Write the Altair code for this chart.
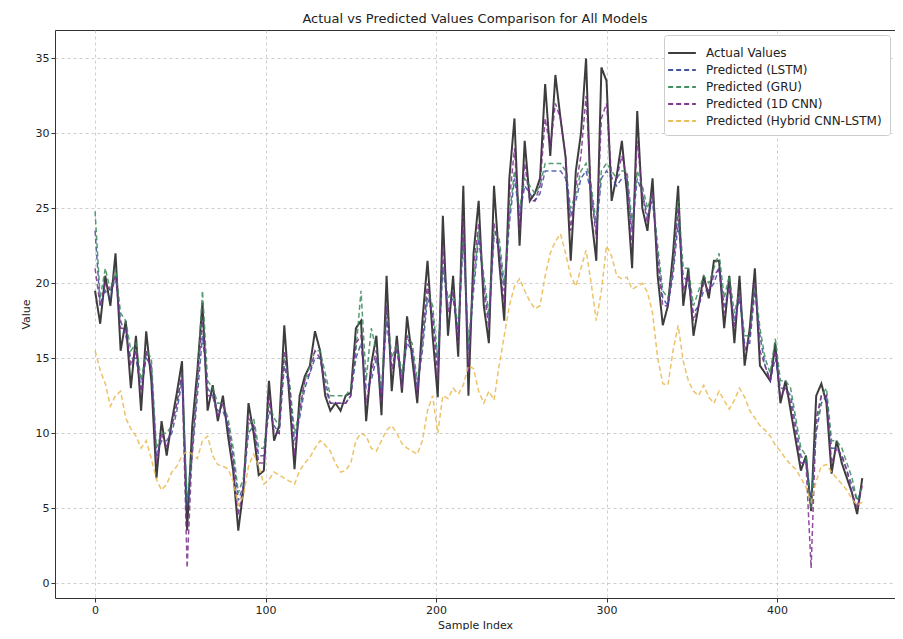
import altair as alt
import pandas as pd

STEP = 3  # sample spacing of the values below (index 0, 3, 6, ... 450)

actual = [
    19.5, 17.3, 20.5, 18.5, 22.0, 15.5, 17.5, 13.0, 16.5, 11.5,
    16.8, 13.5, 7.0, 10.8, 8.5, 10.8, 12.7, 14.8, 3.5, 10.5,
    14.2, 18.7, 11.5, 13.2, 10.8, 12.5, 9.8, 7.5, 3.5, 6.2,
    12.0, 10.0, 7.2, 7.5, 13.5, 9.5, 10.5, 17.2, 12.3, 7.6,
    12.5, 13.8, 14.5, 16.8, 15.5, 12.5, 11.5, 12.0, 11.5, 12.5,
    12.7, 17.0, 17.5, 10.8, 14.6, 16.5, 11.2, 20.5, 12.8, 16.5,
    12.7, 17.8, 15.0, 12.0, 17.5, 21.5, 16.5, 12.4, 24.5, 16.5,
    20.5, 15.1, 26.5, 12.5, 22.0, 25.5, 18.5, 16.0, 26.5, 21.5,
    17.5, 27.0, 31.0, 22.5, 29.5, 25.5, 26.0, 27.0, 33.3, 28.5,
    33.9, 31.0, 28.4, 21.5, 27.5, 30.0, 35.0, 24.5, 21.5, 34.4,
    33.5, 25.5, 27.2, 29.5, 26.0, 21.0, 31.5, 25.0, 23.5, 27.0,
    20.5, 17.2, 18.5, 22.0, 26.5, 18.5, 21.0, 16.5, 18.5, 20.5,
    19.0, 21.5, 21.5, 17.0, 20.5, 16.0, 20.5, 14.5, 17.0, 21.0,
    14.5, 14.0, 13.5, 16.0, 12.0, 13.5, 11.5, 9.5, 7.5, 8.5,
    4.8, 12.5, 13.3, 12.0, 7.3, 9.5, 8.0, 7.0, 6.0, 4.6,
    7.0,
]

lstm = [
    23.5, 18.5, 19.5, 19.0, 20.5, 17.5, 16.5, 15.0, 15.0, 13.0,
    15.0, 14.5, 8.5, 9.5, 9.5, 10.0, 11.5, 13.5, 5.0, 8.5,
    12.5, 16.5, 13.0, 12.5, 11.5, 11.5, 10.5, 8.5, 5.5, 6.5,
    10.0, 10.5, 8.5, 8.5, 11.5, 10.5, 10.0, 14.5, 13.0, 9.5,
    11.0, 13.0, 14.0, 15.0, 15.0, 13.5, 12.0, 12.0, 12.0, 12.0,
    12.5, 15.0, 16.0, 13.0, 13.5, 15.0, 12.5, 17.5, 14.5, 15.5,
    13.5, 16.0, 15.5, 13.0, 15.5, 19.0, 18.0, 14.5, 21.0, 18.5,
    19.0, 16.5, 23.0, 15.5, 19.5, 23.0, 20.0, 17.5, 23.0, 22.5,
    19.5, 24.0, 27.0, 24.5, 26.5, 26.0, 25.5, 26.0, 27.5, 27.5,
    27.5, 27.5, 27.0, 24.5, 25.5, 27.0, 27.5, 26.0, 23.5, 27.0,
    27.5, 27.0, 26.5, 27.0, 27.0, 23.5, 27.0, 26.0, 24.5, 25.5,
    22.0, 19.0, 18.5, 20.5, 24.0, 20.5, 20.0, 18.0, 18.5, 19.5,
    19.5, 20.0, 21.0, 18.5, 19.5, 17.5, 19.0, 16.0, 16.0, 19.5,
    16.5, 14.5, 13.5, 15.0, 13.0, 13.0, 12.5, 10.5, 8.5, 8.0,
    5.5, 10.0, 12.0, 12.5, 9.0, 9.0, 8.5, 7.5, 6.5, 5.5,
    6.0,
]

gru = [
    24.8, 19.0, 21.0, 19.5, 21.0, 18.0, 17.5, 15.5, 16.0, 13.5,
    15.5, 15.0, 9.0, 10.0, 10.0, 10.5, 12.0, 14.0, 5.5, 9.0,
    13.5, 19.5, 13.5, 13.0, 12.0, 12.0, 11.0, 9.0, 6.0, 7.0,
    10.5, 11.0, 9.0, 9.0, 12.0, 11.0, 10.5, 15.0, 13.5, 10.0,
    11.5, 13.5, 14.5, 15.5, 15.5, 14.0, 12.5, 12.5, 12.5, 12.5,
    13.0, 15.5, 19.5, 13.5, 17.0, 15.5, 13.0, 18.5, 15.0, 16.0,
    14.0, 16.5, 16.0, 13.5, 16.0, 19.5, 18.5, 15.0, 21.5, 19.0,
    19.5, 17.0, 23.5, 16.0, 20.0, 23.5, 20.5, 18.0, 23.5, 23.0,
    20.0, 24.5, 27.5, 25.0, 27.0, 26.5, 26.0, 26.5, 28.0, 28.0,
    28.0, 28.0, 27.5, 25.0, 26.0, 27.5, 28.0, 26.5, 24.0, 27.5,
    28.0, 27.5, 27.0, 27.5, 27.5, 24.0, 27.5, 26.5, 25.0, 26.0,
    22.5, 19.5, 19.0, 21.0, 25.5, 21.0, 21.0, 18.5, 19.5, 20.5,
    20.0, 21.0, 22.0, 19.0, 20.5, 18.0, 19.5, 16.5, 16.5, 20.0,
    17.0, 15.0, 14.0, 16.3, 13.5, 13.5, 13.0, 11.0, 9.0, 8.5,
    5.0, 10.5, 12.5, 13.0, 9.5, 9.5, 9.0, 8.0, 7.0, 5.5,
    6.5,
]

cnn = [
    21.0, 18.5, 20.0, 19.5, 20.5, 17.0, 17.0, 14.5, 15.5, 12.5,
    15.5, 14.0, 8.0, 10.0, 9.0, 10.5, 12.0, 14.0, 1.0, 9.0,
    13.5, 17.5, 12.5, 12.5, 11.0, 12.0, 10.5, 8.0, 4.5, 6.5,
    11.0, 10.5, 8.0, 8.0, 12.5, 10.0, 10.0, 15.5, 13.0, 8.5,
    11.5, 13.5, 14.0, 15.5, 15.0, 13.0, 12.0, 12.0, 12.0, 12.0,
    12.5, 16.0, 16.5, 12.0, 14.0, 15.5, 12.0, 18.5, 14.0, 16.0,
    13.0, 16.5, 15.5, 12.5, 16.5, 20.0, 17.5, 13.5, 22.5, 18.0,
    19.5, 16.0, 24.5, 14.0, 21.0, 24.0, 19.5, 17.0, 24.0, 22.0,
    18.5, 25.5, 29.0, 23.5, 28.0, 25.5, 25.5, 26.5, 31.0, 29.0,
    32.0, 31.0, 28.5, 23.5, 26.5, 28.5, 32.5, 26.0, 23.0, 31.0,
    32.0, 27.0, 27.0, 28.5, 27.0, 22.5, 29.5, 26.0, 24.0, 26.0,
    21.5, 18.5, 18.5, 21.0, 25.0, 19.5, 20.5, 17.5, 18.5, 20.0,
    19.5, 20.5, 21.0, 18.0, 20.0, 17.0, 19.5, 15.5, 16.5, 20.0,
    15.5, 14.5, 13.5, 15.5, 12.5, 13.0, 12.0, 10.0, 8.0, 8.0,
    1.0, 11.0, 12.5, 12.5, 8.0, 9.0, 8.5, 7.5, 6.0, 5.0,
    6.5,
]

hybrid = [
    15.5, 14.2, 13.3, 11.8, 12.5, 12.8, 11.0, 10.3, 9.8, 9.0,
    9.5, 8.3, 6.9, 6.2, 6.6, 7.4, 7.8, 8.5, 8.8, 8.6,
    8.3, 9.5, 9.8, 8.5, 7.9, 7.8, 7.6, 6.8, 5.2, 5.8,
    7.8, 8.6, 7.8, 6.6, 6.9, 7.4, 7.2, 7.0, 6.8, 6.6,
    7.5, 8.0, 8.4, 9.0, 9.5, 9.2, 8.8, 8.0, 7.4, 7.5,
    8.0, 9.5, 10.0, 9.8, 9.0, 8.8, 9.5, 10.2, 10.5, 10.0,
    9.3, 9.0, 8.8, 8.6, 9.5, 11.5, 12.5, 10.0, 12.5, 12.3,
    13.0, 12.6, 13.2, 14.5, 14.3, 12.8, 12.0, 12.8, 12.2, 14.5,
    16.5, 18.5, 19.8, 20.3, 19.5, 18.8, 18.3, 18.5, 20.5, 22.0,
    22.8, 23.3, 22.0, 20.5, 19.8, 21.0, 22.2, 20.0, 17.5, 19.5,
    22.5, 21.8, 20.5, 20.3, 20.4, 19.6, 19.8, 20.0, 19.4, 18.0,
    15.0, 13.3, 13.2, 15.5, 17.2, 14.8, 13.5, 12.8, 12.5, 13.2,
    12.4, 12.0, 12.8, 12.2, 11.6, 12.2, 13.0, 12.4, 11.5, 11.0,
    10.5, 10.2, 9.8, 9.2, 8.8, 8.3, 7.9, 7.6, 7.0, 6.4,
    5.4, 6.8, 7.8, 7.9, 7.4, 7.0, 6.6, 6.2, 5.6, 5.2,
    5.4,
]

names = [
    "Actual Values",
    "Predicted (LSTM)",
    "Predicted (GRU)",
    "Predicted (1D CNN)",
    "Predicted (Hybrid CNN-LSTM)",
]
series_values = [actual, lstm, gru, cnn, hybrid]
colors = ["#333333", "#3d4c9e", "#3a8a5a", "#7a2e8c", "#e9b94f"]
dashes = [[1, 0], [5, 3], [5, 3], [5, 3], [5, 3]]
widths = [2.0, 1.5, 1.5, 1.5, 1.5]
opacities = [0.95, 0.85, 0.85, 0.85, 0.85]
x_ticks = [0, 100, 200, 300, 400]
y_ticks = [0, 5, 10, 15, 20, 25, 30, 35]

rows = []
for name, vals in zip(names, series_values):
    for k, v in enumerate(vals):
        rows.append({"idx": k * STEP, "value": v, "series": name})
df = pd.DataFrame(rows)

FONT = "DejaVu Sans"

x_enc = alt.X(
    "idx:Q",
    scale=alt.Scale(domain=[-23.5, 469.2], nice=False, zero=False),
    axis=alt.Axis(values=x_ticks, title="Sample Index", format="d"),
)
y_enc = alt.Y(
    "value:Q",
    scale=alt.Scale(domain=[-1.0, 36.9], nice=False, zero=False),
    axis=alt.Axis(values=y_ticks, title="Value", format="d"),
)
legend = alt.Legend(
    title=None,
    orient="top-right",
    offset=5,
    fillColor="white",
    strokeColor="#cccccc",
    cornerRadius=3,
    padding=8,
    labelFont=FONT,
    labelFontSize=12,
    labelColor="#222222",
    labelLimit=400,
    labelOffset=14,
    symbolType="M-1.6,0H1.6",
    symbolSize=300,
    symbolStrokeWidth=1.8,
    rowPadding=1,
)
color_enc = alt.Color(
    "series:N", scale=alt.Scale(domain=names, range=colors), legend=legend
)
dash_enc = alt.StrokeDash(
    "series:N", scale=alt.Scale(domain=names, range=dashes), legend=legend
)

layers = []
for name, w, op in zip(names, widths, opacities):
    layer = (
        alt.Chart(df)
        .transform_filter(alt.datum.series == name)
        .mark_line(strokeWidth=w, opacity=op)
        .encode(x=x_enc, y=y_enc, color=color_enc, strokeDash=dash_enc)
    )
    layers.append(layer)

chart = (
    alt.layer(*layers)
    .properties(
        width=840,
        height=568,
        title=alt.TitleParams(
            "Actual vs Predicted Values Comparison for All Models",
            font=FONT,
            fontSize=13,
            fontWeight="normal",
            color="#222222",
            offset=4,
        ),
        padding={"left": 12, "top": 5, "right": 0, "bottom": 0},
    )
    .configure_view(stroke="#333333", strokeWidth=1)
    .configure_axis(
        labelFont=FONT,
        labelFontSize=11,
        labelColor="#222222",
        titleFont=FONT,
        titleFontSize=11,
        titleFontWeight="normal",
        titleColor="#222222",
        domain=False,
        tickColor="#333333",
        tickSize=4,
        grid=True,
        gridColor="#bbbbbb",
        gridDash=[3, 3],
        gridOpacity=0.7,
    )
)

chart.save("out.html", embed_options={"renderer": "svg", "actions": False})
